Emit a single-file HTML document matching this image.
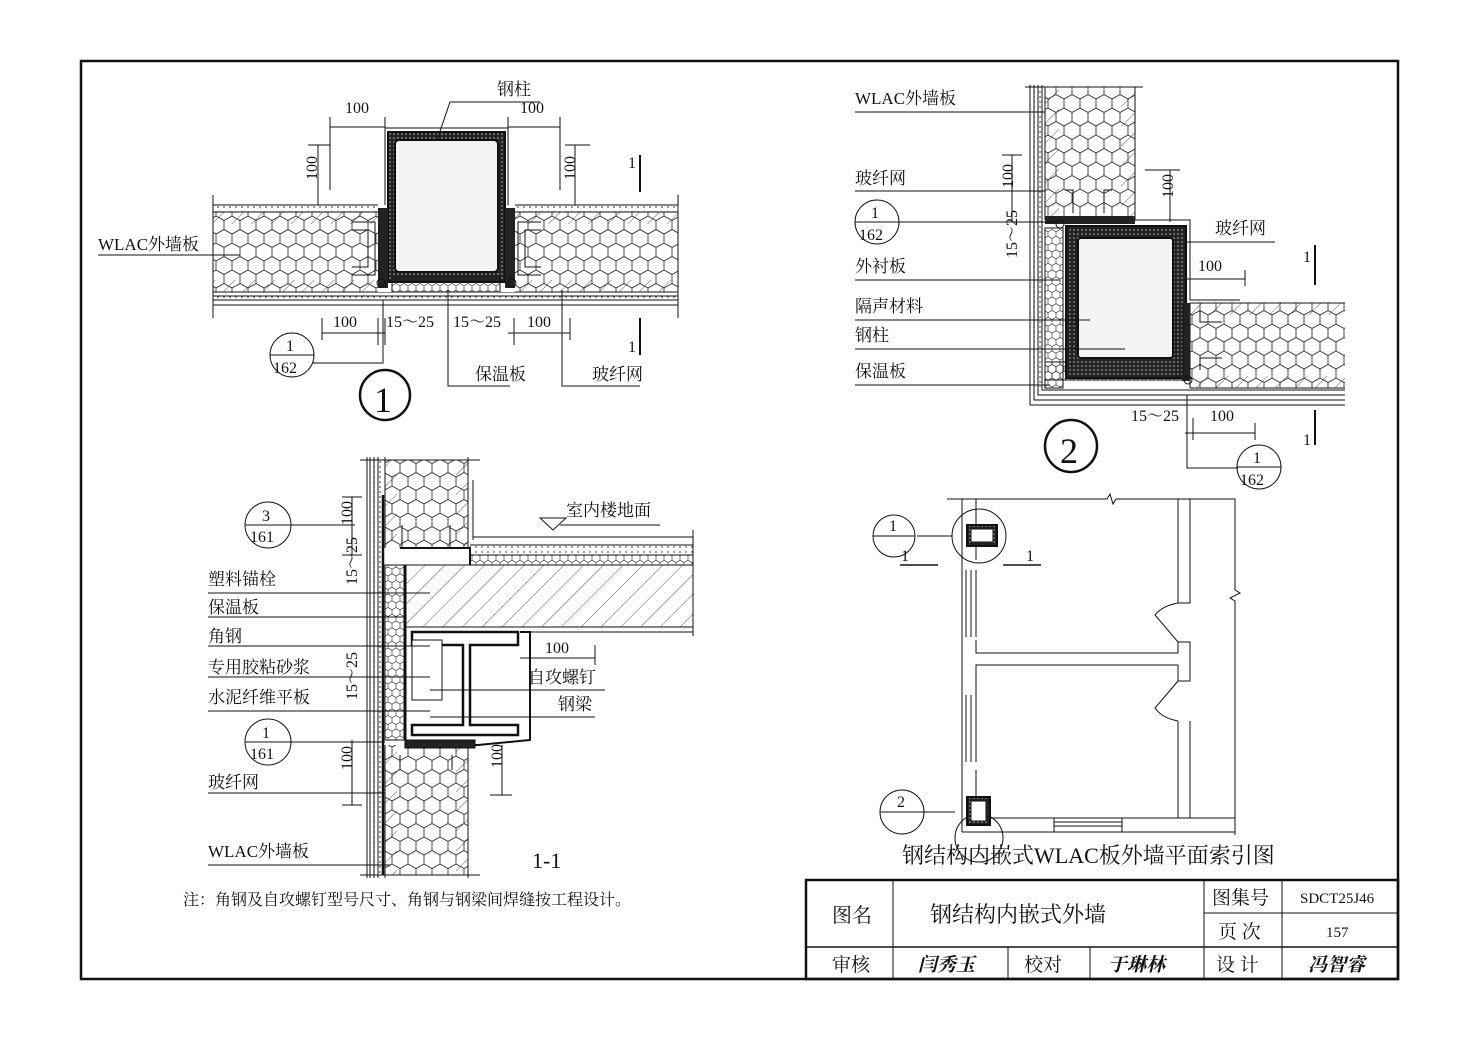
<!DOCTYPE html>
<html><head><meta charset="utf-8"><style>
html,body{margin:0;padding:0;background:#fff;}
svg{display:block;}
text{font-family:"Liberation Serif","Noto Serif CJK SC",serif;fill:#111;}
</style></head><body>
<svg width="1477" height="1039" viewBox="0 0 1477 1039" xmlns="http://www.w3.org/2000/svg">
<defs>
<pattern id="hex" width="16" height="27" patternUnits="userSpaceOnUse">
<path d="M0,4.5 L8,0 L16,4.5 L16,13.5 L8,18 L0,13.5 Z M8,18 L8,27" fill="none" stroke="#222" stroke-width="0.8"/>
</pattern>
<pattern id="hexs" width="8" height="13.5" patternUnits="userSpaceOnUse">
<path d="M0,2.25 L4,0 L8,2.25 L8,6.75 L4,9 L0,6.75 Z M4,9 L4,13.5" fill="none" stroke="#222" stroke-width="0.6"/>
</pattern>
<pattern id="hatch" width="14" height="14" patternUnits="userSpaceOnUse" patternTransform="rotate(45)">
<line x1="0" y1="0" x2="0" y2="14" stroke="#333" stroke-width="0.8"/>
</pattern>
<pattern id="dots" width="6" height="5" patternUnits="userSpaceOnUse">
<circle cx="2" cy="2" r="0.9" fill="#555"/>
</pattern>
<pattern id="dark" width="4" height="4" patternUnits="userSpaceOnUse">
<rect width="4" height="4" fill="#222"/><circle cx="2" cy="2" r="0.8" fill="#bbb"/>
</pattern>
</defs>
<g fill="none" stroke="#111" stroke-width="1">
<rect x="81" y="61" width="1317" height="918" stroke-width="2.5"/>
<rect x="806" y="880" width="592" height="99" stroke-width="2.5"/>
<line x1="806" y1="947" x2="1398" y2="947" stroke-width="1.5"/>
<line x1="1204" y1="913" x2="1398" y2="913"/>
<line x1="893" y1="880" x2="893" y2="979"/>
<line x1="1204" y1="880" x2="1204" y2="979"/>
<line x1="1282" y1="880" x2="1282" y2="947"/>
<line x1="1008" y1="947" x2="1008" y2="979"/>
<line x1="1090" y1="947" x2="1090" y2="979"/>
<line x1="1282" y1="947" x2="1282" y2="979"/>

<!-- DETAIL 1 -->
<rect x="213" y="212" width="465" height="80" fill="url(#hex)" stroke="none"/>
<rect x="213" y="212" width="465" height="12" fill="url(#hatch)" stroke="none"/>
<rect x="213" y="280" width="465" height="12" fill="url(#hatch)" stroke="none"/>
<rect x="213" y="205" width="465" height="7" fill="url(#dots)" stroke="none"/>
<rect x="213" y="294" width="465" height="6" fill="url(#dots)" stroke="none"/>
<path d="M213,205H678M213,212H678M213,292H678M213,296H678M213,300H678M213,305H678"/>
<path d="M213,195V318M678,195V318"/>
<rect x="378" y="128" width="137" height="164" fill="#fff" stroke="none"/>
<rect x="388" y="132" width="117" height="150" fill="url(#dark)" stroke="#111" stroke-width="2"/>
<rect x="395" y="140" width="103" height="132" rx="4" fill="#f3f3f3" stroke="#111" stroke-width="2"/>
<rect x="392" y="278" width="108" height="14" fill="url(#hexs)" stroke="#111"/>
<rect x="378" y="208" width="10" height="80" fill="#222" stroke="none"/>
<rect x="505" y="208" width="10" height="80" fill="#222" stroke="none"/>
<path d="M385,128H508M385,128V205M508,128V205"/>
<path d="M352,222H375V275H352M352,230H368V267H352"/>
<path d="M541,222H518V275H541M541,230H525V267H541"/>
<circle cx="381" cy="283" r="4"/><circle cx="512" cy="283" r="4"/>
<path d="M330,127H385M330,117V190M385,117V135M508,127H560M560,117V190M508,117V135"/>
<path d="M318,145V205M308,145H330M575,145V205M565,145H590"/>
<path d="M322,333H385M322,318V340M378,318V345M385,318V345M508,333H570M570,318V340M514,318V345"/>
<path d="M313,363H383V300M448,290V386H510M562,290V386H640"/>
<path d="M497,102H450L437,140M540,102H450"/>
<path d="M98,255H240"/>
<path d="M640,155V192M640,318V355" stroke-width="2"/>
<circle cx="292" cy="355" r="22"/><line x1="270" y1="355" x2="314" y2="355"/>
<circle cx="385" cy="395" r="25" stroke-width="2.5"/>

<!-- DETAIL 2 -->
<rect x="1045" y="87" width="90" height="133" fill="url(#hex)" stroke="none"/>
<rect x="1045" y="87" width="14" height="133" fill="url(#hatch)" stroke="none"/>
<rect x="1121" y="87" width="14" height="133" fill="url(#hatch)" stroke="none"/>
<rect x="1034" y="87" width="8" height="300" fill="url(#dots)" stroke="none"/>
<path d="M1030,85V405H1345M1034,85V400H1345M1038,85V395H1345M1042,85V390H1345"/>
<path d="M1045,87V220M1135,87V220M1025,87H1143"/>
<rect x="1190" y="303" width="155" height="85" fill="url(#hex)" stroke="none"/>
<rect x="1190" y="303" width="155" height="12" fill="url(#hatch)" stroke="none"/>
<rect x="1190" y="376" width="155" height="12" fill="url(#hatch)" stroke="none"/>
<path d="M1190,303H1345M1190,388H1345M1190,303V388"/>
<path d="M1135,220H1190V300H1240"/>
<rect x="1045" y="228" width="18" height="160" fill="url(#hexs)" stroke="#111"/>
<rect x="1045" y="362" width="140" height="18" fill="url(#hexs)" stroke="#111"/>
<rect x="1066" y="226" width="120" height="152" fill="url(#dark)" stroke="#111" stroke-width="2"/>
<rect x="1078" y="238" width="95" height="120" rx="3" fill="#f3f3f3" stroke="#111" stroke-width="2"/>
<rect x="1045" y="216" width="90" height="8" fill="#222" stroke="none"/>
<rect x="1182" y="303" width="8" height="78" fill="#222" stroke="none"/>
<path d="M1065,190H1073V213M1112,190H1104V213M1200,310V322H1222M1200,370V358H1222"/>
<circle cx="1060" cy="224" r="4"/><circle cx="1188" cy="380" r="4"/>
<path d="M855,112H1045M855,191H1045M899,222H1060M855,280H1060M855,320H1090M855,349H1125M855,385H1050"/>
<path d="M1012,155V222M1002,155H1022M1002,222H1022M1170,170V222M1145,170H1180"/>
<path d="M1185,242H1275M1185,279H1245M1245,270V286"/>
<path d="M1185,433H1255M1255,423V440M1187,395V468H1238M1193,418V440"/>
<path d="M1315,245V285M1315,410V445" stroke-width="2"/>
<circle cx="877" cy="222" r="22"/><line x1="855" y1="222" x2="899" y2="222"/>
<circle cx="1259" cy="467" r="22"/><line x1="1237" y1="467" x2="1281" y2="467"/>
<circle cx="1071" cy="446" r="26" stroke-width="2.5"/>

<!-- SECTION 1-1 -->
<rect x="385" y="460" width="83" height="88" fill="url(#hex)" stroke="none"/>
<rect x="385" y="745" width="83" height="130" fill="url(#hex)" stroke="none"/>
<rect x="385" y="460" width="12" height="88" fill="url(#hatch)" stroke="none"/>
<rect x="456" y="460" width="12" height="88" fill="url(#hatch)" stroke="none"/>
<rect x="385" y="745" width="12" height="130" fill="url(#hatch)" stroke="none"/>
<rect x="456" y="745" width="12" height="130" fill="url(#hatch)" stroke="none"/>
<rect x="374" y="460" width="8" height="415" fill="url(#dots)" stroke="none"/>
<path d="M367,457V878M370,457V878M374,457V878M378,457V878M385,457V548M385,745V878M468,457V548M468,745V878M473,480V540"/>
<path d="M383,495V875" stroke-width="2.5"/>
<path d="M360,460H480M360,875H480"/>
<rect x="385" y="565" width="20" height="175" fill="url(#hexs)" stroke="#111"/>
<path d="M405,565V740" stroke-width="3"/>
<rect x="405" y="565" width="288" height="62" fill="url(#hatch)" stroke="#111"/>
<rect x="470" y="545" width="223" height="10" fill="url(#dots)" stroke="none"/>
<rect x="470" y="555" width="223" height="10" fill="url(#hexs)" stroke="none"/>
<path d="M473,537H693M470,545H693M470,555H693M693,530V636M520,632H693"/>
<path d="M400,548H470V565" stroke-width="2"/>
<path d="M402,525V548M450,525V548M402,548H450"/>
<path d="M400,755V770M452,755V770"/>
<path d="M412,632H518V645H470V725H518V735H412V725H463V645H412Z" fill="#fff" stroke-width="2.5"/>
<path d="M520,632H530V740L478,745H405" stroke-width="2"/>
<rect x="405" y="740" width="70" height="8" fill="#222"/>
<rect x="412" y="640" width="30" height="60" fill="#fff"/>
<path d="M560,525H660M540,518H566L553,530Z"/>
<path d="M290,525H355M208,593H430M208,617H405M208,646H430M208,677H430M208,711H430M290,742H385M208,793H385M208,865H390"/>
<path d="M430,690H605M430,717H595"/>
<path d="M352,497V555M342,497H362M342,555H362M352,740V805M342,805H362M502,745V795M490,795H512"/>
<path d="M520,658H595M595,645V665"/>
<circle cx="268" cy="525" r="23"/><line x1="245" y1="525" x2="291" y2="525"/>
<circle cx="268" cy="742" r="23"/><line x1="245" y1="742" x2="291" y2="742"/>

<!-- PLAN -->
<path d="M947,499H1107L1110,494L1113,504L1116,499H1235V590L1240,593L1230,598L1235,601V835"/>
<path d="M962,499V832M976,499V560M976,770V818"/>
<path d="M962,570V637M976,570V637M966,570V637M971,570V637M962,695V762M976,695V762M966,695V762M971,695V762"/>
<path d="M976,640V653H1178V642H1190V681H1178V665H976V695"/>
<path d="M1178,499V603H1190V499M1178,721V818H1190V721"/>
<path d="M1178,642L1155,615Q1162,606 1178,603"/>
<path d="M1178,681L1155,708Q1162,718 1178,721"/>
<path d="M976,818H1178M1190,818H1235M962,832H1235M1054,818V832M1122,818V832M1054,822H1122M1054,826H1122"/>
<circle cx="979" cy="536" r="27"/>
<rect x="967" y="525" width="30" height="21" fill="url(#dark)" stroke-width="2"/>
<rect x="971" y="529" width="22" height="13" fill="#fff"/>
<circle cx="979" cy="838" r="24"/>
<rect x="967" y="797" width="23" height="28" fill="url(#dark)" stroke-width="2"/>
<rect x="971" y="801" width="15" height="20" fill="#fff"/>
<path d="M917,536H952M902,812H955"/>
<circle cx="894" cy="536" r="21"/><line x1="873" y1="536" x2="915" y2="536"/>
<circle cx="902" cy="812" r="22"/><line x1="880" y1="812" x2="924" y2="812"/>
<path d="M900,565H938M1003,565H1041" stroke-width="1.5"/>
</g>

<g font-size="17">
<text x="497" y="95">钢柱</text>
<text x="345" y="113" font-size="16">100</text>
<text x="520" y="113" font-size="16">100</text>
<text x="307" y="190" font-size="16" transform="rotate(-90 307 180)">100</text>
<text x="565" y="190" font-size="16" transform="rotate(-90 565 180)">100</text>
<text x="98" y="250">WLAC外墙板</text>
<text x="628" y="168" font-size="16">1</text>
<text x="628" y="352" font-size="16">1</text>
<text x="333" y="327" font-size="16">100</text>
<text x="386" y="327" font-size="16">15～25</text>
<text x="453" y="327" font-size="16">15～25</text>
<text x="527" y="327" font-size="16">100</text>
<text x="286" y="351" font-size="16">1</text>
<text x="273" y="373" font-size="16">162</text>
<text x="475" y="380">保温板</text>
<text x="592" y="380">玻纤网</text>
<text x="374" y="412" font-size="36">1</text>

<text x="855" y="104">WLAC外墙板</text>
<text x="855" y="184">玻纤网</text>
<text x="871" y="218" font-size="16">1</text>
<text x="859" y="240" font-size="16">162</text>
<text x="855" y="272">外衬板</text>
<text x="855" y="312">隔声材料</text>
<text x="855" y="341">钢柱</text>
<text x="855" y="377">保温板</text>
<text x="1003" y="198" font-size="16" transform="rotate(-90 1003 188)">100</text>
<text x="1003" y="272" font-size="16" transform="rotate(-90 1003 258)">15～25</text>
<text x="1163" y="208" font-size="16" transform="rotate(-90 1163 198)">100</text>
<text x="1215" y="234">玻纤网</text>
<text x="1198" y="271" font-size="16">100</text>
<text x="1303" y="262" font-size="16">1</text>
<text x="1303" y="445" font-size="16">1</text>
<text x="1131" y="421" font-size="16">15～25</text>
<text x="1210" y="421" font-size="16">100</text>
<text x="1253" y="463" font-size="16">1</text>
<text x="1240" y="485" font-size="16">162</text>
<text x="1060" y="463" font-size="36">2</text>

<text x="566" y="516">室内楼地面</text>
<text x="262" y="521" font-size="16">3</text>
<text x="250" y="542" font-size="16">161</text>
<text x="262" y="738" font-size="16">1</text>
<text x="250" y="759" font-size="16">161</text>
<text x="208" y="585">塑料锚栓</text>
<text x="208" y="613">保温板</text>
<text x="208" y="642">角钢</text>
<text x="208" y="673">专用胶粘砂浆</text>
<text x="208" y="703">水泥纤维平板</text>
<text x="208" y="788">玻纤网</text>
<text x="208" y="857">WLAC外墙板</text>
<text x="342" y="535" font-size="16" transform="rotate(-90 342 525)">100</text>
<text x="342" y="600" font-size="16" transform="rotate(-90 342 585)">15～25</text>
<text x="342" y="715" font-size="16" transform="rotate(-90 342 700)">15～25</text>
<text x="342" y="780" font-size="16" transform="rotate(-90 342 770)">100</text>
<text x="492" y="778" font-size="16" transform="rotate(-90 492 768)">100</text>
<text x="545" y="653" font-size="16">100</text>
<text x="528" y="683">自攻螺钉</text>
<text x="558" y="710">钢梁</text>
<text x="532" y="868" font-size="22">1-1</text>
<text x="183" y="905" font-size="16">注：角钢及自攻螺钉型号尺寸、角钢与钢梁间焊缝按工程设计。</text>

<text x="889" y="531" font-size="16">1</text>
<text x="897" y="807" font-size="16">2</text>
<text x="901" y="561" font-size="16">1</text>
<text x="1026" y="561" font-size="16">1</text>
<text x="902" y="863" font-size="22">钢结构内嵌式WLAC板外墙平面索引图</text>

<text x="832" y="922" font-size="20">图名</text>
<text x="930" y="922" font-size="22">钢结构内嵌式外墙</text>
<text x="1212" y="904" font-size="19">图集号</text>
<text x="1300" y="903" font-size="15">SDCT25J46</text>
<text x="1218" y="938" font-size="19">页 次</text>
<text x="1326" y="937" font-size="15">157</text>
<text x="832" y="971" font-size="19">审核</text>
<text x="1024" y="971" font-size="19">校对</text>
<text x="1216" y="971" font-size="19">设 计</text>
<text x="918" y="971" font-size="19" font-style="italic" font-weight="bold">闫秀玉</text>
<text x="1108" y="971" font-size="19" font-style="italic" font-weight="bold">于琳林</text>
<text x="1308" y="971" font-size="19" font-style="italic" font-weight="bold">冯智睿</text>
</g>
</svg>
</body></html>
